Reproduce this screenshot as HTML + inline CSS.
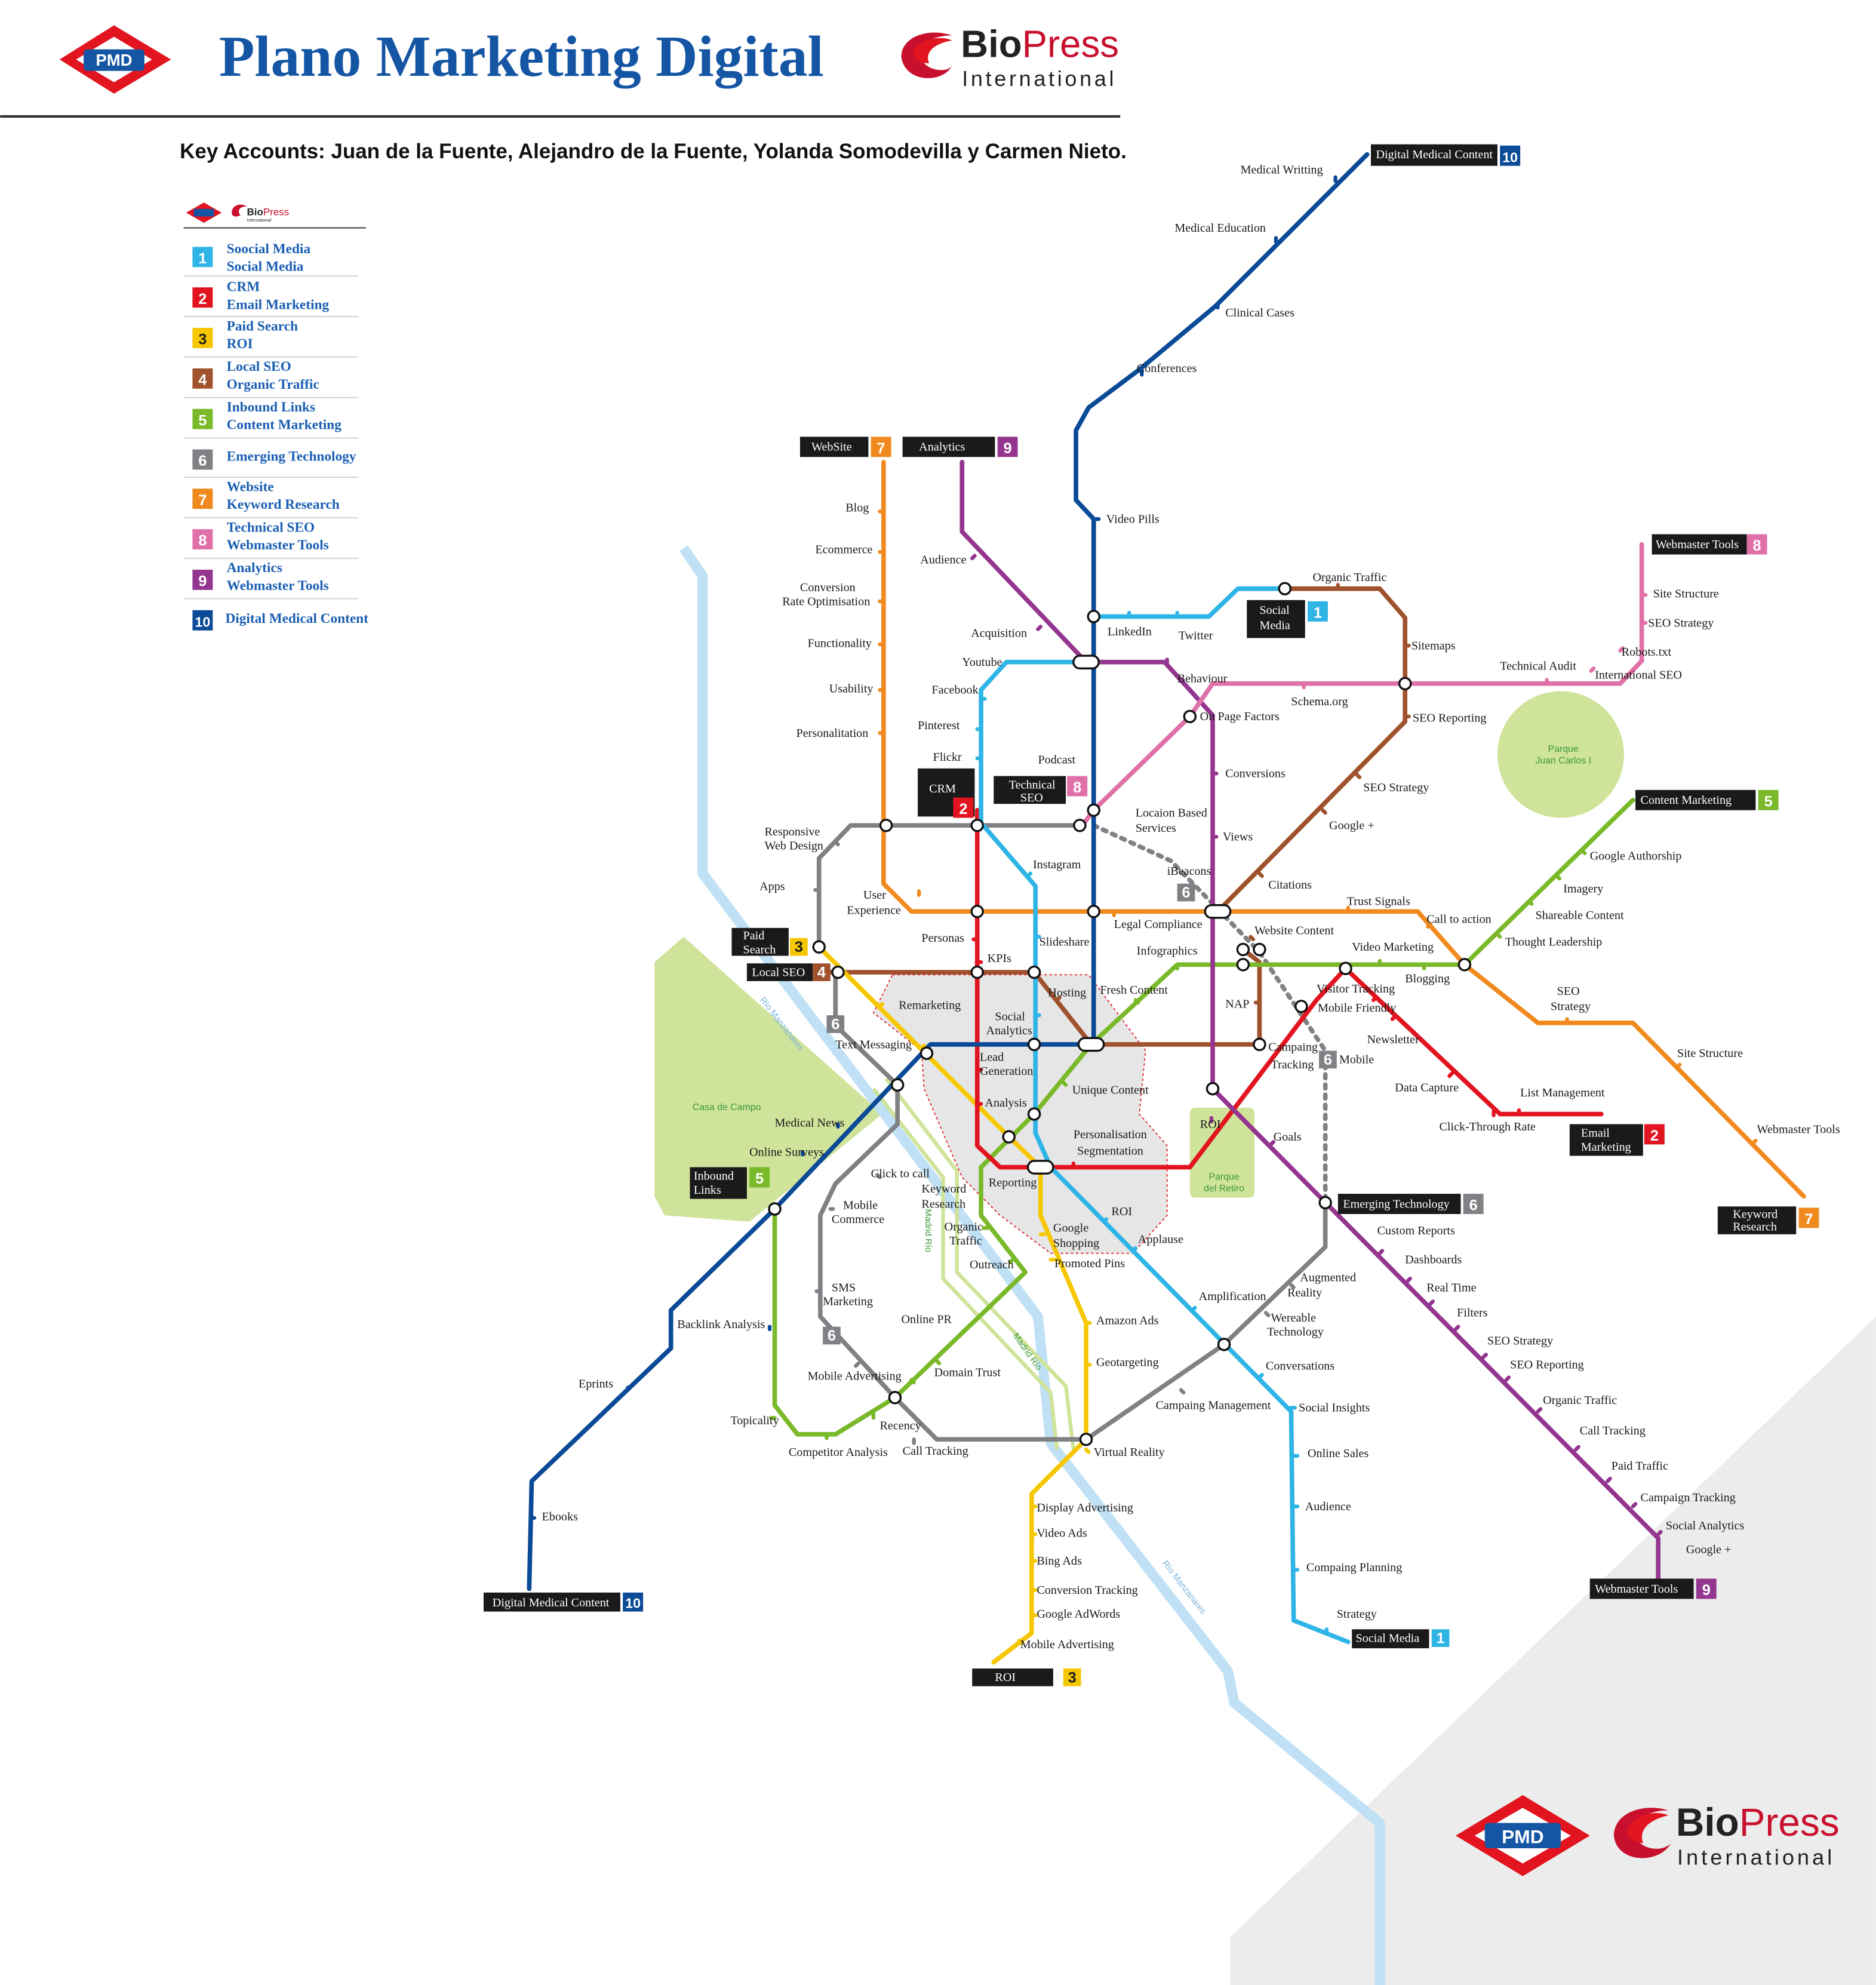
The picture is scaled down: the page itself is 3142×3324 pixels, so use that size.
<!DOCTYPE html>
<html><head><meta charset="utf-8"><style>
html,body{margin:0;padding:0;background:#fff;}
svg{display:block;}
text{font-family:"Liberation Serif",serif;}
.l{font-size:9.5px;fill:#1a1a1a;}
.t{font-size:9.5px;fill:#fff;}
.n{font-size:12px;fill:#fff;font-family:"Liberation Sans",sans-serif;font-weight:bold;}
.lg{font-size:11px;fill:#1a5fb4;font-weight:bold;}
.ln{fill:none;stroke-width:3.6;stroke-linejoin:round;stroke-linecap:round;}
.st{fill:#fff;stroke:#111;stroke-width:1.6;}
</style></head><body>
<svg width="3142" height="3324" viewBox="0 0 1482 1568" xmlns="http://www.w3.org/2000/svg">
<rect width="1482" height="1568" fill="#fff"/>
<polygon points="1482,1040 1482,1568 972,1568 972,1530" fill="#ececec"/>
<g>
<polygon points="47,47 90,20 135,47 90,74" fill="#e1141f"/>
<polygon points="60,47 90,29 120,47 90,65" fill="#fff"/>
<rect x="66" y="39" width="48" height="17" rx="3" fill="#1455a4"/>
<text x="90" y="52" text-anchor="middle" style="font-family:'Liberation Sans',sans-serif;font-weight:bold;font-size:13px;fill:#fff">PMD</text>
</g>
<text x="173" y="60" style="font-size:46px;font-weight:bold;fill:#1455a4">Plano Marketing Digital</text>
<g>
<path d="M712,45 C712,28 735,22 752,28 C738,28 725,34 728,46 C731,56 748,58 752,52 C745,66 715,66 712,45Z" fill="#c8102e"/>
<path d="M722,40 C728,30 745,28 752,32 C740,34 730,40 734,50 C726,50 720,46 722,40Z" fill="#e1141f"/>
<text x="759" y="45" style="font-family:'Liberation Sans',sans-serif;font-size:30px;fill:#222"><tspan font-weight="bold">Bio</tspan><tspan fill="#c8102e">Press</tspan></text>
<text x="760" y="68" style="font-family:'Liberation Sans',sans-serif;font-size:17px;fill:#222;letter-spacing:2.2px">International</text>
</g>
<line x1="0" y1="92" x2="885" y2="92" stroke="#333" stroke-width="2"/>
<text x="142" y="125" style="font-family:'Liberation Sans',sans-serif;font-size:16.5px;font-weight:bold;fill:#111">Key Accounts: Juan de la Fuente, Alejandro de la Fuente, Yolanda Somodevilla y Carmen Nieto.</text>

<g>
<polygon points="147,168 161,160 175,168 161,176" fill="#e1141f"/><rect x="153" y="165" width="16" height="6" fill="#1455a4"/>
<path d="M183,168 C183,162 190,160 195,163 C189,163 187,167 190,170 C186,172 183,171 183,168Z" fill="#c8102e"/>
<text x="195" y="170" style="font-family:'Liberation Sans',sans-serif;font-size:8px;font-weight:bold;fill:#222">Bio<tspan fill="#c8102e" font-weight="normal">Press</tspan></text>
<text x="195" y="175" style="font-family:'Liberation Sans',sans-serif;font-size:3.5px;fill:#222">International</text>
<line x1="145" y1="180" x2="289" y2="180" stroke="#444" stroke-width="1"/>
<g stroke="#ccc" stroke-width="0.8">
<line x1="145" y1="218" x2="283" y2="218"/><line x1="145" y1="250" x2="283" y2="250"/><line x1="145" y1="282" x2="283" y2="282"/><line x1="145" y1="314" x2="283" y2="314"/><line x1="145" y1="346" x2="283" y2="346"/><line x1="145" y1="377" x2="283" y2="377"/><line x1="145" y1="409" x2="283" y2="409"/><line x1="145" y1="441" x2="283" y2="441"/><line x1="145" y1="473" x2="283" y2="473"/>
</g>
<rect x="152" y="195" width="16" height="16" fill="#2fb4e6"/><text x="160" y="208" text-anchor="middle" class="n">1</text>
<text x="179" y="200" class="lg">Soocial Media</text><text x="179" y="214" class="lg">Social Media</text>
<rect x="152" y="227" width="16" height="16" fill="#e1141f"/><text x="160" y="240" text-anchor="middle" class="n">2</text>
<text x="179" y="230" class="lg">CRM</text><text x="179" y="244" class="lg">Email Marketing</text>
<rect x="152" y="259" width="16" height="16" fill="#f6c700"/><text x="160" y="272" text-anchor="middle" class="n" style="fill:#1a1a1a">3</text>
<text x="179" y="261" class="lg">Paid Search</text><text x="179" y="275" class="lg">ROI</text>
<rect x="152" y="291" width="16" height="16" fill="#a0522d"/><text x="160" y="304" text-anchor="middle" class="n">4</text>
<text x="179" y="293" class="lg">Local SEO</text><text x="179" y="307" class="lg">Organic Traffic</text>
<rect x="152" y="323" width="16" height="16" fill="#7ab929"/><text x="160" y="336" text-anchor="middle" class="n">5</text>
<text x="179" y="325" class="lg">Inbound Links</text><text x="179" y="339" class="lg">Content Marketing</text>
<rect x="152" y="355" width="16" height="16" fill="#7f8184"/><text x="160" y="368" text-anchor="middle" class="n">6</text>
<text x="179" y="364" class="lg">Emerging Technology</text>
<rect x="152" y="386" width="16" height="16" fill="#f08a1e"/><text x="160" y="399" text-anchor="middle" class="n">7</text>
<text x="179" y="388" class="lg">Website</text><text x="179" y="402" class="lg">Keyword Research</text>
<rect x="152" y="418" width="16" height="16" fill="#e070a8"/><text x="160" y="431" text-anchor="middle" class="n">8</text>
<text x="179" y="420" class="lg">Technical SEO</text><text x="179" y="434" class="lg">Webmaster Tools</text>
<rect x="152" y="450" width="16" height="16" fill="#94368f"/><text x="160" y="463" text-anchor="middle" class="n">9</text>
<text x="179" y="452" class="lg">Analytics</text><text x="179" y="466" class="lg">Webmaster Tools</text>
<rect x="152" y="482" width="16" height="16" fill="#0a4a96"/><text x="160" y="495" text-anchor="middle" class="n" style="font-size:11px">10</text>
<text x="178" y="492" class="lg">Digital Medical Content</text>
</g>

<polygon points="540,740 697,880 592,965 525,960 517,945 517,760" fill="#cfe39a"/>
<text x="547" y="877" style="font-family:'Liberation Sans',sans-serif;font-size:7.5px;fill:#3a9a3a">Casa de Campo</text>
<circle cx="1233" cy="596" r="50" fill="#cfe39a"/>
<text x="1235" y="594" text-anchor="middle" style="font-family:'Liberation Sans',sans-serif;font-size:7.5px;fill:#3a9a3a">Parque</text>
<text x="1235" y="603" text-anchor="middle" style="font-family:'Liberation Sans',sans-serif;font-size:7.5px;fill:#3a9a3a">Juan Carlos I</text>
<rect x="940" y="875" width="51" height="71" rx="4" fill="#cfe39a"/>
<text x="967" y="932" text-anchor="middle" style="font-family:'Liberation Sans',sans-serif;font-size:7.5px;fill:#3a9a3a">Parque</text>
<text x="967" y="941" text-anchor="middle" style="font-family:'Liberation Sans',sans-serif;font-size:7.5px;fill:#3a9a3a">del Retiro</text>

<path d="M540,433 L555,455 L555,690 L820,1040 L830,1140 L970,1320 L975,1345 L1090,1440 L1090,1568" fill="none" stroke="#bfe0f5" stroke-width="8" stroke-linejoin="round"/>
<path d="M690,860 L745,930 L745,1010 L830,1100 L835,1145" fill="none" stroke="#cfe39a" stroke-width="3"/>
<path d="M700,852 L756,925 L756,1005 L842,1095 L848,1145" fill="none" stroke="#cfe39a" stroke-width="3"/>
<text transform="translate(600,790) rotate(52)" style="font-family:'Liberation Sans',sans-serif;font-size:7px;fill:#7ab4dc">Río Manzanares</text>
<text transform="translate(918,1235) rotate(52)" style="font-family:'Liberation Sans',sans-serif;font-size:7px;fill:#7ab4dc">Río Manzanares</text>
<text transform="translate(800,1055) rotate(55)" style="font-family:'Liberation Sans',sans-serif;font-size:7px;fill:#3a9a3a">Madrid Río</text>
<text transform="translate(731,955) rotate(90)" style="font-family:'Liberation Sans',sans-serif;font-size:7px;fill:#3a9a3a">Madrid Río</text>

<polygon points="705,770 860,770 905,830 900,880 922,905 922,960 895,990 830,990 790,960 760,930 730,860 728,830 690,800" fill="#e6e6e6" stroke="#e1141f" stroke-width="0.8" stroke-dasharray="2,2"/>

<path class="ln" stroke="#7f8184" d="M855,652 L672,652 L647,678 L647,748"/>
<path class="ln" stroke="#7f8184" d="M660,768 L660,810 L709,857 L709,888 L660,935 L648,960 L648,1040 L707,1104 L740,1137 L858,1137 L967,1062 L1047,985 L1047,950"/>
<path class="ln" stroke="#7f8184" stroke-dasharray="3,5" d="M864,652 L925,680 L995,752 L1047,830 L1047,950"/>
<path class="ln" stroke="#f08a1e" d="M698,365 L698,698 L720,720 L1120,720 L1157,762 L1215,808 L1290,808 L1425,945"/>
<path class="ln" stroke="#a0522d" d="M650,768 L817,768 L862,825 L995,825 L995,760 L982,750 M962,720 L1110,570 L1110,488 L1090,465 L1015,465"/>
<path class="ln" stroke="#7ab929" d="M1290,632 L1157,762 L930,762 L862,825 L817,880 L775,922 L775,960 L810,1005 L707,1104 L660,1133 L630,1133 L612,1110 L612,955"/>
<path class="ln" stroke="#f6c700" d="M647,748 L797,898 L822,922 L822,960 L858,1045 L858,1137 L815,1180 L815,1290 L785,1313"/>
<path class="ln" stroke="#e1141f" d="M772,640 L772,905 L790,922 L940,922 L1040,790 L1063,765 L1185,880 L1265,880"/>
<path class="ln" stroke="#2fb4e6" d="M1015,465 L978,465 L955,487 L864,487 M858,523 L795,523 L775,545 L775,650 L818,700 L818,895 L830,922 L1020,1115 L1022,1280 L1065,1297"/>
<path class="ln" stroke="#94368f" d="M760,365 L760,420 L858,523 L920,523 L958,565 L958,860 L1310,1215 L1310,1255"/>
<path class="ln" stroke="#e070a8" d="M1297,430 L1297,522 L1280,540 L958,540 L940,566 L864,640 L855,652"/>
<path class="ln" stroke="#0a4a96" d="M1080,122 L960,242 L900,292 L860,322 L850,340 L850,395 L864,410 L864,825 L735,825 L612,955 L530,1035 L530,1065 L420,1170 L418,1255"/>

<g stroke-width="3" stroke-linecap="round">
<g stroke="#0a4a96"><path d="M1055,140l0,3M1008,188l0,3M962,240l0,3M902,293l0,3M866,410l2,0M608,1048l0,2M496,1096l0,2M420,1199l2,0M662,888l0,2M634,910l0,2"/></g>
<g stroke="#f08a1e"><path d="M698,404l-3,0M698,436l-3,0M698,475l-3,0M698,509l-3,0M698,545l-3,0M698,579l-3,0M726,704l0,3M880,720l0,3M1065,720l0,-3M1130,730l-2,2M1238,808l0,-3M1325,843l2,-2M1385,903l2,-2"/></g>
<g stroke="#94368f"><path d="M768,441l2,-2M820,497l2,-2M922,524l0,-3M958,611l3,0M958,661l3,0M957,886l0,-3M1004,904l2,-2M1090,990l2,-2M1112,1012l2,-2M1130,1030l2,-2M1150,1050l2,-2M1172,1072l2,-2M1190,1090l2,-2M1215,1115l2,-2M1245,1145l2,-2M1270,1170l2,-2M1290,1190l2,-2M1310,1212l2,-2"/></g>
<g stroke="#2fb4e6"><path d="M892,487l0,-3M930,487l0,-3M790,528l2,-2M778,552l-3,0M775,576l-3,0M775,599l-3,0M812,692l2,-2M818,740l3,0M818,802l3,0M872,965l2,-2M895,988l2,-2M942,1035l2,-2M995,1088l2,-2M1020,1112l3,0M1022,1150l3,0M1022,1190l3,0M1022,1240l3,0M1048,1290l0,-3"/></g>
<g stroke="#e070a8"><path d="M1222,540l0,-3M1257,530l2,-2M1280,514l2,-2M1297,492l3,0M1297,470l3,0M1030,540l0,3"/></g>
<g stroke="#a0522d"><path d="M1057,465l0,-3M1110,510l3,0M1110,566l3,0M1072,612l2,2M1045,640l2,2M995,690l2,2M835,790l2,-2M995,792l-3,0M988,740l2,2"/></g>
<g stroke="#7ab929"><path d="M1250,672l2,2M1230,692l2,2M1208,712l2,2M1183,738l2,2M1125,762l0,3M1090,762l0,-3M930,762l0,3M897,790l2,2M840,855l2,2M780,970l-3,0M798,997l2,-2M740,1075l2,2M720,1090l2,2M690,1117l0,3M653,1133l0,3M612,1120l-3,0"/></g>
<g stroke="#f6c700"><path d="M695,795l2,-2M728,828l2,-2M822,975l3,0M830,995l3,0M858,1045l3,0M858,1078l3,0M858,1145l2,2M815,1190l3,0M815,1212l3,0M815,1233l3,0M815,1256l3,0M815,1276l3,0M805,1296l2,2"/></g>
<g stroke="#e1141f"><path d="M772,742l-3,0M772,760l3,0M772,845l3,0M772,872l3,0M848,922l0,-3M1085,790l2,-2M1100,805l2,-2M1145,850l2,-2M1200,880l0,-3M1180,878l0,3"/></g>
<g stroke="#7f8184"><path d="M660,665l2,2M647,703l-3,0M695,930l-2,-2M658,955l-2,0M648,1020l-3,0M678,1077l-2,2M722,1137l0,3M935,1100l-2,-2M1000,1037l2,2M1020,1015l2,2"/></g>
</g>

<g>
<rect x="848" y="518" width="20" height="10" rx="5" class="st"/>
<rect x="952" y="715" width="20" height="10" rx="5" class="st"/>
<rect x="852" y="820" width="20" height="10" rx="5" class="st"/>
<rect x="812" y="917" width="20" height="10" rx="5" class="st"/>
<g class="st">
<circle cx="864" cy="487" r="4.5"/><circle cx="700" cy="652" r="4.5"/><circle cx="772" cy="652" r="4.5"/><circle cx="853" cy="652" r="4.5"/><circle cx="864" cy="640" r="4.5"/><circle cx="940" cy="566" r="4.5"/><circle cx="1110" cy="540" r="4.5"/><circle cx="1015" cy="465" r="4.5"/><circle cx="772" cy="720" r="4.5"/><circle cx="864" cy="720" r="4.5"/><circle cx="772" cy="768" r="4.5"/><circle cx="817" cy="768" r="4.5"/><circle cx="647" cy="748" r="4.5"/><circle cx="662" cy="768" r="4.5"/><circle cx="732" cy="832" r="4.5"/><circle cx="709" cy="857" r="4.5"/><circle cx="817" cy="825" r="4.5"/><circle cx="995" cy="825" r="4.5"/><circle cx="1028" cy="795" r="4.5"/><circle cx="1063" cy="765" r="4.5"/><circle cx="1157" cy="762" r="4.5"/><circle cx="958" cy="860" r="4.5"/><circle cx="817" cy="880" r="4.5"/><circle cx="797" cy="898" r="4.5"/><circle cx="612" cy="955" r="4.5"/><circle cx="707" cy="1104" r="4.5"/><circle cx="858" cy="1137" r="4.5"/><circle cx="967" cy="1062" r="4.5"/><circle cx="1047" cy="950" r="4.5"/><circle cx="982" cy="750" r="4.5"/><circle cx="995" cy="750" r="4.5"/><circle cx="982" cy="762" r="4.5"/>
</g>
</g>

<g>
<rect x="1083" y="114" width="100" height="17" fill="#1a1a1a"/><text x="1087" y="125" class="t">Digital Medical Content</text>
<rect x="1185" y="115" width="16" height="16" fill="#0a4a96"/><text x="1193" y="128" text-anchor="middle" class="n" style="font-size:11px">10</text>
<rect x="632" y="345" width="54" height="16" fill="#1a1a1a"/><text x="641" y="356" class="t">WebSite</text>
<rect x="688" y="345" width="16" height="16" fill="#f08a1e"/><text x="696" y="358" text-anchor="middle" class="n">7</text>
<rect x="713" y="345" width="73" height="16" fill="#1a1a1a"/><text x="726" y="356" class="t">Analytics</text>
<rect x="788" y="345" width="16" height="16" fill="#94368f"/><text x="796" y="358" text-anchor="middle" class="n">9</text>
<rect x="1305" y="422" width="75" height="16" fill="#1a1a1a"/><text x="1308" y="433" class="t">Webmaster Tools</text>
<rect x="1380" y="422" width="16" height="16" fill="#e070a8"/><text x="1388" y="435" text-anchor="middle" class="n">8</text>
<rect x="985" y="474" width="46" height="30" fill="#1a1a1a"/><text x="995" y="485" class="t">Social</text><text x="995" y="497" class="t">Media</text>
<rect x="1033" y="475" width="16" height="16" fill="#2fb4e6"/><text x="1041" y="488" text-anchor="middle" class="n">1</text>
<rect x="725" y="607" width="45" height="38" fill="#1a1a1a"/><text x="734" y="626" class="t">CRM</text>
<rect x="753" y="630" width="16" height="16" fill="#e1141f"/><text x="761" y="643" text-anchor="middle" class="n">2</text>
<rect x="785" y="613" width="57" height="22" fill="#1a1a1a"/><text x="797" y="623" class="t">Technical</text><text x="806" y="633" class="t">SEO</text>
<rect x="843" y="613" width="16" height="16" fill="#e070a8"/><text x="851" y="626" text-anchor="middle" class="n">8</text>
<rect x="1292" y="624" width="95" height="16" fill="#1a1a1a"/><text x="1296" y="635" class="t">Content Marketing</text>
<rect x="1389" y="624" width="16" height="16" fill="#7ab929"/><text x="1397" y="637" text-anchor="middle" class="n">5</text>
<rect x="578" y="733" width="45" height="22" fill="#1a1a1a"/><text x="587" y="742" class="t">Paid</text><text x="587" y="753" class="t">Search</text>
<rect x="624" y="741" width="14" height="14" fill="#f6c700"/><text x="631" y="752" text-anchor="middle" class="n" style="fill:#1a1a1a">3</text>
<rect x="590" y="761" width="52" height="14" fill="#1a1a1a"/><text x="594" y="771" class="t">Local SEO</text>
<rect x="642" y="761" width="14" height="14" fill="#a0522d"/><text x="649" y="772" text-anchor="middle" class="n">4</text>
<rect x="653" y="802" width="14" height="14" fill="#7f8184"/><text x="660" y="813" text-anchor="middle" class="n">6</text>
<rect x="930" y="698" width="14" height="14" fill="#7f8184"/><text x="937" y="709" text-anchor="middle" class="n">6</text>
<rect x="1042" y="830" width="14" height="14" fill="#7f8184"/><text x="1049" y="841" text-anchor="middle" class="n">6</text>
<rect x="650" y="1048" width="14" height="14" fill="#7f8184"/><text x="657" y="1059" text-anchor="middle" class="n">6</text>
<rect x="545" y="922" width="45" height="25" fill="#1a1a1a"/><text x="548" y="932" class="t">Inbound</text><text x="548" y="943" class="t">Links</text>
<rect x="592" y="922" width="16" height="16" fill="#7ab929"/><text x="600" y="935" text-anchor="middle" class="n">5</text>
<rect x="1240" y="888" width="58" height="25" fill="#1a1a1a"/><text x="1249" y="898" class="t">Email</text><text x="1249" y="909" class="t">Marketing</text>
<rect x="1299" y="888" width="16" height="16" fill="#e1141f"/><text x="1307" y="901" text-anchor="middle" class="n">2</text>
<rect x="1057" y="943" width="97" height="16" fill="#1a1a1a"/><text x="1061" y="954" class="t">Emerging Technology</text>
<rect x="1156" y="943" width="16" height="16" fill="#7f8184"/><text x="1164" y="956" text-anchor="middle" class="n">6</text>
<rect x="1357" y="953" width="62" height="22" fill="#1a1a1a"/><text x="1369" y="962" class="t">Keyword</text><text x="1369" y="972" class="t">Research</text>
<rect x="1421" y="954" width="16" height="16" fill="#f08a1e"/><text x="1429" y="967" text-anchor="middle" class="n">7</text>
<rect x="1256" y="1247" width="82" height="16" fill="#1a1a1a"/><text x="1260" y="1258" class="t">Webmaster Tools</text>
<rect x="1340" y="1247" width="16" height="16" fill="#94368f"/><text x="1348" y="1260" text-anchor="middle" class="n">9</text>
<rect x="1068" y="1287" width="61" height="15" fill="#1a1a1a"/><text x="1071" y="1297" class="t">Social Media</text>
<rect x="1131" y="1287" width="14" height="14" fill="#2fb4e6"/><text x="1138" y="1298" text-anchor="middle" class="n">1</text>
<rect x="768" y="1318" width="64" height="14" fill="#1a1a1a"/><text x="786" y="1328" class="t">ROI</text>
<rect x="840" y="1318" width="14" height="14" fill="#f6c700"/><text x="847" y="1329" text-anchor="middle" class="n" style="fill:#1a1a1a">3</text>
<rect x="382" y="1258" width="108" height="15" fill="#1a1a1a"/><text x="389" y="1269" class="t">Digital Medical Content</text>
<rect x="492" y="1258" width="16" height="15" fill="#0a4a96"/><text x="500" y="1270" text-anchor="middle" class="n" style="font-size:11px">10</text>
</g>

<g class="l">
<text x="980" y="137">Medical Writting</text><text x="928" y="183">Medical Education</text><text x="968" y="250">Clinical Cases</text><text x="898" y="294">Conferences</text><text x="874" y="413">Video Pills</text><text x="535" y="1049">Backlink Analysis</text><text x="457" y="1096">Eprints</text><text x="428" y="1201">Ebooks</text><text x="612" y="890">Medical News</text><text x="592" y="913">Online Surveys</text>
<text x="668" y="404">Blog</text><text x="644" y="437">Ecommerce</text><text x="632" y="467">Conversion</text><text x="618" y="478">Rate Optimisation</text><text x="638" y="511">Functionality</text><text x="655" y="547">Usability</text><text x="629" y="582">Personalitation</text><text x="682" y="710">User</text><text x="669" y="722">Experience</text><text x="880" y="733">Legal Compliance</text><text x="1064" y="715">Trust Signals</text><text x="1127" y="729">Call to action</text><text x="1230" y="786">SEO</text><text x="1225" y="798">Strategy</text><text x="1325" y="835">Site Structure</text><text x="1388" y="895">Webmaster Tools</text>
<text x="727" y="445">Audience</text><text x="767" y="503">Acquisition</text><text x="930" y="539">Behaviour</text><text x="968" y="614">Conversions</text><text x="966" y="664">Views</text><text x="948" y="891">ROI</text><text x="1006" y="901">Goals</text><text x="1088" y="975">Custom Reports</text><text x="1110" y="998">Dashboards</text><text x="1127" y="1020">Real Time</text><text x="1151" y="1040">Filters</text><text x="1175" y="1062">SEO Strategy</text><text x="1193" y="1081">SEO Reporting</text><text x="1219" y="1109">Organic Traffic</text><text x="1248" y="1133">Call Tracking</text><text x="1273" y="1161">Paid Traffic</text><text x="1296" y="1186">Campaign Tracking</text><text x="1316" y="1208">Social Analytics</text><text x="1332" y="1227">Google +</text>
<text x="875" y="502">LinkedIn</text><text x="931" y="505">Twitter</text><text x="760" y="526">Youtube</text><text x="736" y="548">Facebook</text><text x="725" y="576">Pinterest</text><text x="737" y="601">Flickr</text><text x="820" y="603">Podcast</text><text x="816" y="686">Instagram</text><text x="821" y="747">Slideshare</text><text x="786" y="806">Social</text><text x="779" y="817">Analytics</text><text x="878" y="960">ROI</text><text x="899" y="982">Applause</text><text x="947" y="1027">Amplification</text><text x="1000" y="1082">Conversations</text><text x="1026" y="1115">Social Insights</text><text x="1033" y="1151">Online Sales</text><text x="1031" y="1193">Audience</text><text x="1032" y="1241">Compaing Planning</text><text x="1056" y="1278">Strategy</text>
<text x="1185" y="529">Technical Audit</text><text x="1260" y="536">International SEO</text><text x="1281" y="518">Robots.txt</text><text x="1302" y="495">SEO Strategy</text><text x="1306" y="472">Site Structure</text><text x="1020" y="557">Schema.org</text><text x="948" y="569">On Page Factors</text>
<text x="1037" y="459">Organic Traffic</text><text x="1115" y="513">Sitemaps</text><text x="1116" y="570">SEO Reporting</text><text x="1077" y="625">SEO Strategy</text><text x="1050" y="655">Google +</text><text x="1002" y="702">Citations</text><text x="828" y="787">Hosting</text><text x="968" y="796">NAP</text><text x="991" y="738">Website Content</text>
<text x="1256" y="679">Google Authorship</text><text x="1235" y="705">Imagery</text><text x="1213" y="726">Shareable Content</text><text x="1189" y="747">Thought Leadership</text><text x="1110" y="776">Blogging</text><text x="1068" y="751">Video Marketing</text><text x="869" y="785">Fresh Content</text><text x="898" y="754">Infographics</text><text x="847" y="864">Unique Content</text><text x="746" y="972">Organic</text><text x="750" y="983">Traffic</text><text x="766" y="1002">Outreach</text><text x="738" y="1087">Domain Trust</text><text x="712" y="1045">Online PR</text><text x="695" y="1129">Recency</text><text x="623" y="1150">Competitor Analysis</text><text x="577" y="1125">Topicality</text>
<text x="660" y="828">Text Messaging</text><text x="710" y="797">Remarketing</text><text x="728" y="942">Keyword</text><text x="728" y="954">Research</text><text x="832" y="973">Google</text><text x="832" y="985">Shopping</text><text x="833" y="1001">Promoted Pins</text><text x="866" y="1046">Amazon Ads</text><text x="866" y="1079">Geotargeting</text><text x="864" y="1150">Virtual Reality</text><text x="819" y="1194">Display Advertising</text><text x="819" y="1214">Video Ads</text><text x="819" y="1236">Bing Ads</text><text x="819" y="1259">Conversion Tracking</text><text x="819" y="1278">Google AdWords</text><text x="806" y="1302">Mobile Advertising</text>
<text x="728" y="744">Personas</text><text x="780" y="760">KPIs</text><text x="774" y="838">Lead</text><text x="774" y="849">Generation</text><text x="778" y="874">Analysis</text><text x="781" y="937">Reporting</text><text x="848" y="899">Personalisation</text><text x="851" y="912">Segmentation</text><text x="1040" y="784">Visitor Tracking</text><text x="1041" y="799">Mobile Friendly</text><text x="1080" y="824">Newsletter</text><text x="1102" y="862">Data Capture</text><text x="1201" y="866">List Management</text><text x="1137" y="893">Click-Through Rate</text>
<text x="604" y="660">Responsive</text><text x="604" y="671">Web Design</text><text x="600" y="703">Apps</text><text x="688" y="930">Click to call</text><text x="666" y="955">Mobile</text><text x="657" y="966">Commerce</text><text x="657" y="1020">SMS</text><text x="650" y="1031">Marketing</text><text x="638" y="1090">Mobile Advertising</text><text x="713" y="1149">Call Tracking</text><text x="913" y="1113">Campaing Management</text><text x="1004" y="1044">Wereable</text><text x="1001" y="1055">Technology</text><text x="1027" y="1012">Augmented</text><text x="1017" y="1024">Reality</text><text x="1002" y="830">Campaing</text><text x="1004" y="844">Tracking</text><text x="1058" y="840">Mobile</text><text x="897" y="645">Locaion Based</text><text x="897" y="657">Services</text><text x="922" y="691">iBeacons</text>
</g>

<g>
<polygon points="1150,1450 1203,1418 1256,1450 1203,1482" fill="#e1141f"/>
<polygon points="1165,1450 1203,1428 1241,1450 1203,1472" fill="#fff"/>
<rect x="1173" y="1440" width="60" height="20" rx="3" fill="#1455a4"/>
<text x="1203" y="1456" text-anchor="middle" style="font-family:'Liberation Sans',sans-serif;font-weight:bold;font-size:15px;fill:#fff">PMD</text>
<path d="M1275,1450 C1275,1432 1298,1424 1318,1430 C1302,1430 1288,1438 1292,1450 C1296,1462 1314,1463 1320,1456 C1311,1473 1277,1472 1275,1450Z" fill="#c8102e"/>
<path d="M1286,1444 C1292,1432 1310,1430 1318,1434 C1305,1437 1294,1444 1298,1456 C1289,1455 1284,1450 1286,1444Z" fill="#e1141f"/>
<text x="1324" y="1450" style="font-family:'Liberation Sans',sans-serif;font-size:31px;fill:#222"><tspan font-weight="bold">Bio</tspan><tspan fill="#c8102e">Press</tspan></text>
<text x="1325" y="1473" style="font-family:'Liberation Sans',sans-serif;font-size:17px;fill:#222;letter-spacing:2.4px">International</text>
</g>
</svg>
</body></html>
